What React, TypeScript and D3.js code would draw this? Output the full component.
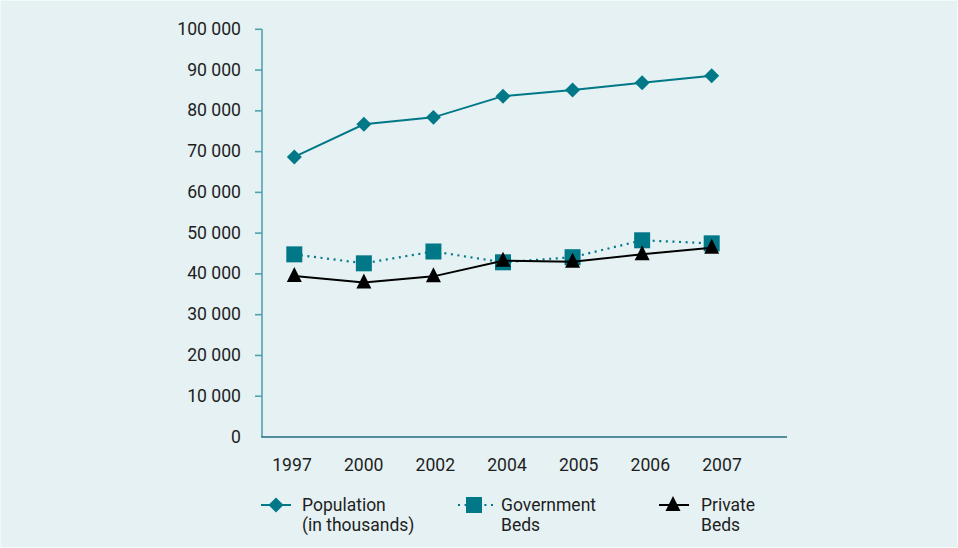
import React from "react";
import * as d3 from "d3";

// Years shown along the horizontal axis
const years: string[] = ["1997", "2000", "2002", "2004", "2005", "2006", "2007"];

// Series values
const population: number[] = [68700, 76700, 78400, 83600, 85100, 86900, 88600];
const governmentBeds: number[] = [44800, 42600, 45500, 42850, 44100, 48250, 47500];
const privateBeds: number[] = [39500, 37900, 39400, 43250, 43000, 44800, 46400];

// Value-axis ticks
const yTicks: number[] = [0, 10000, 20000, 30000, 40000, 50000, 60000, 70000, 80000, 90000, 100000];

// Legend entries (two lines of text each)
const legendLabels: string[][] = [
  ["Population", "(in thousands)"],
  ["Government", "Beds"],
  ["Private", "Beds"],
];

const W = 958;
const H = 548;
const TEAL = "#007887";
const BG = "#e5f1f3";
const TEXT = "#1e1e1e";
const FONT = "Roboto, 'Noto Sans', sans-serif";

const locale = d3.formatLocale({ decimal: ".", thousands: " ", grouping: [3], currency: ["", ""] });
const fmt = locale.format(",");

// Upward triangle, a little taller than equilateral, centred on its centroid
const tallTriangle: d3.SymbolType = {
  draw(ctx, size) {
    const w = Math.sqrt(size);
    const h = w;
    ctx.moveTo(0, -h * 0.6);
    ctx.lineTo(w / 2, h * 0.4);
    ctx.lineTo(-w / 2, h * 0.4);
    ctx.closePath();
  },
};

export default function App() {
  const y = d3.scaleLinear().domain([0, 100000]).range([437, 29.3]);
  const xMark = d3.scalePoint<string>().domain(years).range([294.3, 711.7]);
  const xLabel = d3.scalePoint<string>().domain(years).range([292, 722]);

  const axisLeftX = 262;
  const axisRightX = 787;

  const lineGen = d3
    .line<number>()
    .x((_, i) => xMark(years[i]) as number)
    .y((d) => y(d));

  const diamond = d3.symbol(d3.symbolSquare, 112)();
  const square = d3.symbol(d3.symbolSquare, 256)();
  const triangle = d3.symbol(tallTriangle, 225)();

  const legendY = 505;
  const legendItems = [
    { x0: 261, x1: 291, cx: 276, tx: 302, kind: "pop" },
    { x0: 458, x1: 493, cx: 474, tx: 501, kind: "gov" },
    { x0: 659, x1: 689, cx: 673, tx: 701, kind: "priv" },
  ];

  return (
    <svg
      width={W}
      height={H}
      style={{ position: "absolute", left: 0, top: 0, display: "block" }}
      fontFamily={FONT}
    >
      <rect x={0} y={0} width={W} height={H} fill="#f3f8f9" />
      <rect x={1} y={1} width={W - 2} height={H - 2} fill={BG} />

      {/* value axis */}
      <line x1={axisLeftX} x2={axisLeftX} y1={y(100000)} y2={y(0)} stroke="#4fa3af" strokeWidth={1.6} />
      {yTicks.map((t) => (
        <g key={t}>
          {t > 0 && (
            <line x1={axisLeftX - 7} x2={axisLeftX} y1={y(t)} y2={y(t)} stroke="#4fa3af" strokeWidth={1.6} />
          )}
          <text
            x={241}
            y={y(t) - 0.5}
            textAnchor="end"
            dominantBaseline="central"
            fontSize={17.6}
            fill={TEXT}
          >
            {fmt(t)}
          </text>
        </g>
      ))}

      {/* category axis */}
      <line x1={axisLeftX - 0.8} x2={axisRightX} y1={y(0)} y2={y(0)} stroke="#1f6f7e" strokeWidth={1.6} />
      {years.map((yr) => (
        <text
          key={yr}
          x={xLabel(yr)}
          y={470.5}
          textAnchor="middle"
          fontSize={17.6}
          fill={TEXT}
        >
          {yr}
        </text>
      ))}

      {/* population */}
      <path d={lineGen(population) ?? ""} fill="none" stroke={TEAL} strokeWidth={2} />
      {population.map((v, i) => (
        <path
          key={"p" + i}
          d={diamond ?? ""}
          transform={`translate(${xMark(years[i])},${y(v)}) rotate(45)`}
          fill={TEAL}
        />
      ))}

      {/* government beds */}
      <path
        d={lineGen(governmentBeds) ?? ""}
        fill="none"
        stroke={TEAL}
        strokeWidth={2.2}
        strokeDasharray="2 4.6"
      />
      {governmentBeds.map((v, i) => (
        <path
          key={"g" + i}
          d={square ?? ""}
          transform={`translate(${xMark(years[i])},${y(v)})`}
          fill={TEAL}
        />
      ))}

      {/* private beds */}
      <path d={lineGen(privateBeds) ?? ""} fill="none" stroke="#000" strokeWidth={2} />
      {privateBeds.map((v, i) => (
        <path
          key={"r" + i}
          d={triangle ?? ""}
          transform={`translate(${xMark(years[i])},${y(v)})`}
          fill="#000"
        />
      ))}

      {/* legend */}
      {legendItems.map((it, k) => (
        <g key={it.kind}>
          {it.kind === "pop" && (
            <>
              <line x1={it.x0} x2={it.x1} y1={legendY} y2={legendY} stroke={TEAL} strokeWidth={2} />
              <path d={diamond ?? ""} transform={`translate(${it.cx},${legendY}) rotate(45)`} fill={TEAL} />
            </>
          )}
          {it.kind === "gov" && (
            <>
              <line
                x1={it.x0}
                x2={it.x1}
                y1={legendY}
                y2={legendY}
                stroke={TEAL}
                strokeWidth={2.2}
                strokeDasharray="2 4.6"
              />
              <path d={square ?? ""} transform={`translate(${it.cx},${legendY})`} fill={TEAL} />
            </>
          )}
          {it.kind === "priv" && (
            <>
              <line x1={it.x0} x2={it.x1} y1={legendY} y2={legendY} stroke="#000" strokeWidth={2} />
              <path d={triangle ?? ""} transform={`translate(${it.cx},${legendY})`} fill="#000" />
            </>
          )}
          {legendLabels[k].map((line, j) => (
            <text key={j} x={it.tx} y={510.8 + j * 20.6} fontSize={17.5} fill={TEXT}>
              {line}
            </text>
          ))}
        </g>
      ))}
    </svg>
  );
}
